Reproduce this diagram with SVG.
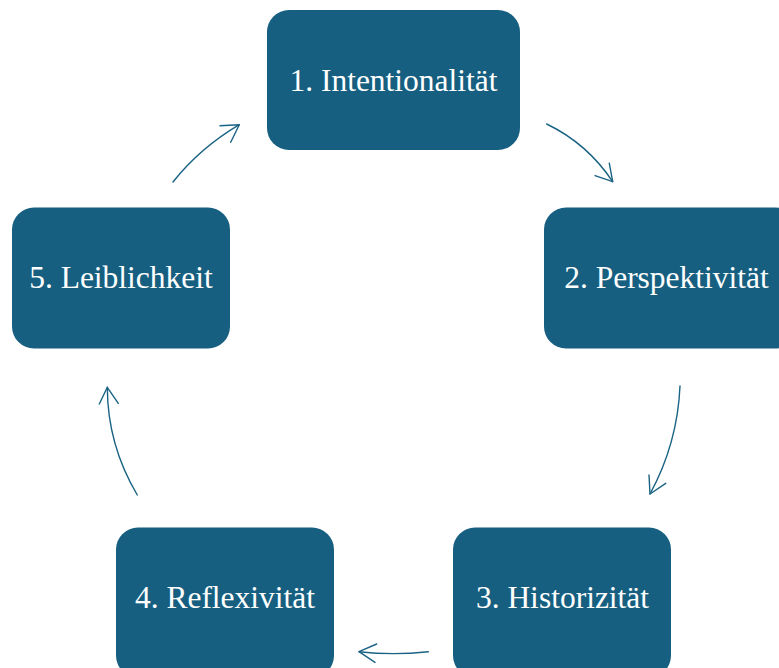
<svg xmlns="http://www.w3.org/2000/svg" width="779" height="668" viewBox="0 0 779 668">
<style>
.box{fill:#175f80;}
.lbl{fill:#ffffff;font-family:'Liberation Serif','Times New Roman','DejaVu Serif',serif;font-size:31.5px;text-anchor:middle;}
.con{fill:none;stroke:#1b6384;stroke-width:1.4;stroke-linecap:round;stroke-linejoin:round;}
</style>
<rect width="779" height="668" fill="#ffffff"/>
<g id="node1"><rect class="box" x="267" y="10" width="253" height="140" rx="22"/><text class="lbl" x="393.5" y="90.5" font-family="Liberation Serif, serif">1. Intentionalität</text></g>
<g id="node2"><rect class="box" x="544" y="207.5" width="253" height="141" rx="22"/><text class="lbl" x="666.5" y="288" font-family="Liberation Serif, serif">2. Perspektivität</text></g>
<g id="node3"><rect class="box" x="453" y="527.5" width="218" height="150" rx="22"/><text class="lbl" x="562.5" y="608" font-family="Liberation Serif, serif">3. Historizität</text></g>
<g id="node4"><rect class="box" x="116" y="527.5" width="218" height="150" rx="22"/><text class="lbl" x="225" y="608" font-family="Liberation Serif, serif">4. Reflexivität</text></g>
<g id="node5"><rect class="box" x="12" y="207.5" width="218" height="141" rx="22"/><text class="lbl" x="121" y="288" font-family="Liberation Serif, serif">5. Leiblichkeit</text></g>
<g id="connectors">
<path class="con" d="M173,182 Q200,148 239.3,124.7"/>
<path class="con" d="M220,125.7 L239.3,124.7 L230.7,142.3"/>
<path class="con" d="M546.7,124 Q587.6,143.8 612.7,181.7"/>
<path class="con" d="M595,175.7 L612.7,181.7 L609.3,163.3"/>
<path class="con" d="M680,386 Q677.5,443.5 650,494"/>
<path class="con" d="M649,475 L650,494 L665.7,483.3"/>
<path class="con" d="M428.3,651.7 Q393,655.5 359,651.7"/>
<path class="con" d="M376.7,644 L359,651.7 L375,662.3"/>
<path class="con" d="M137.3,495 Q107.5,445 107.3,387.3"/>
<path class="con" d="M99.3,404 L107.3,387.3 L118.3,403.3"/>
</g>
</svg>
